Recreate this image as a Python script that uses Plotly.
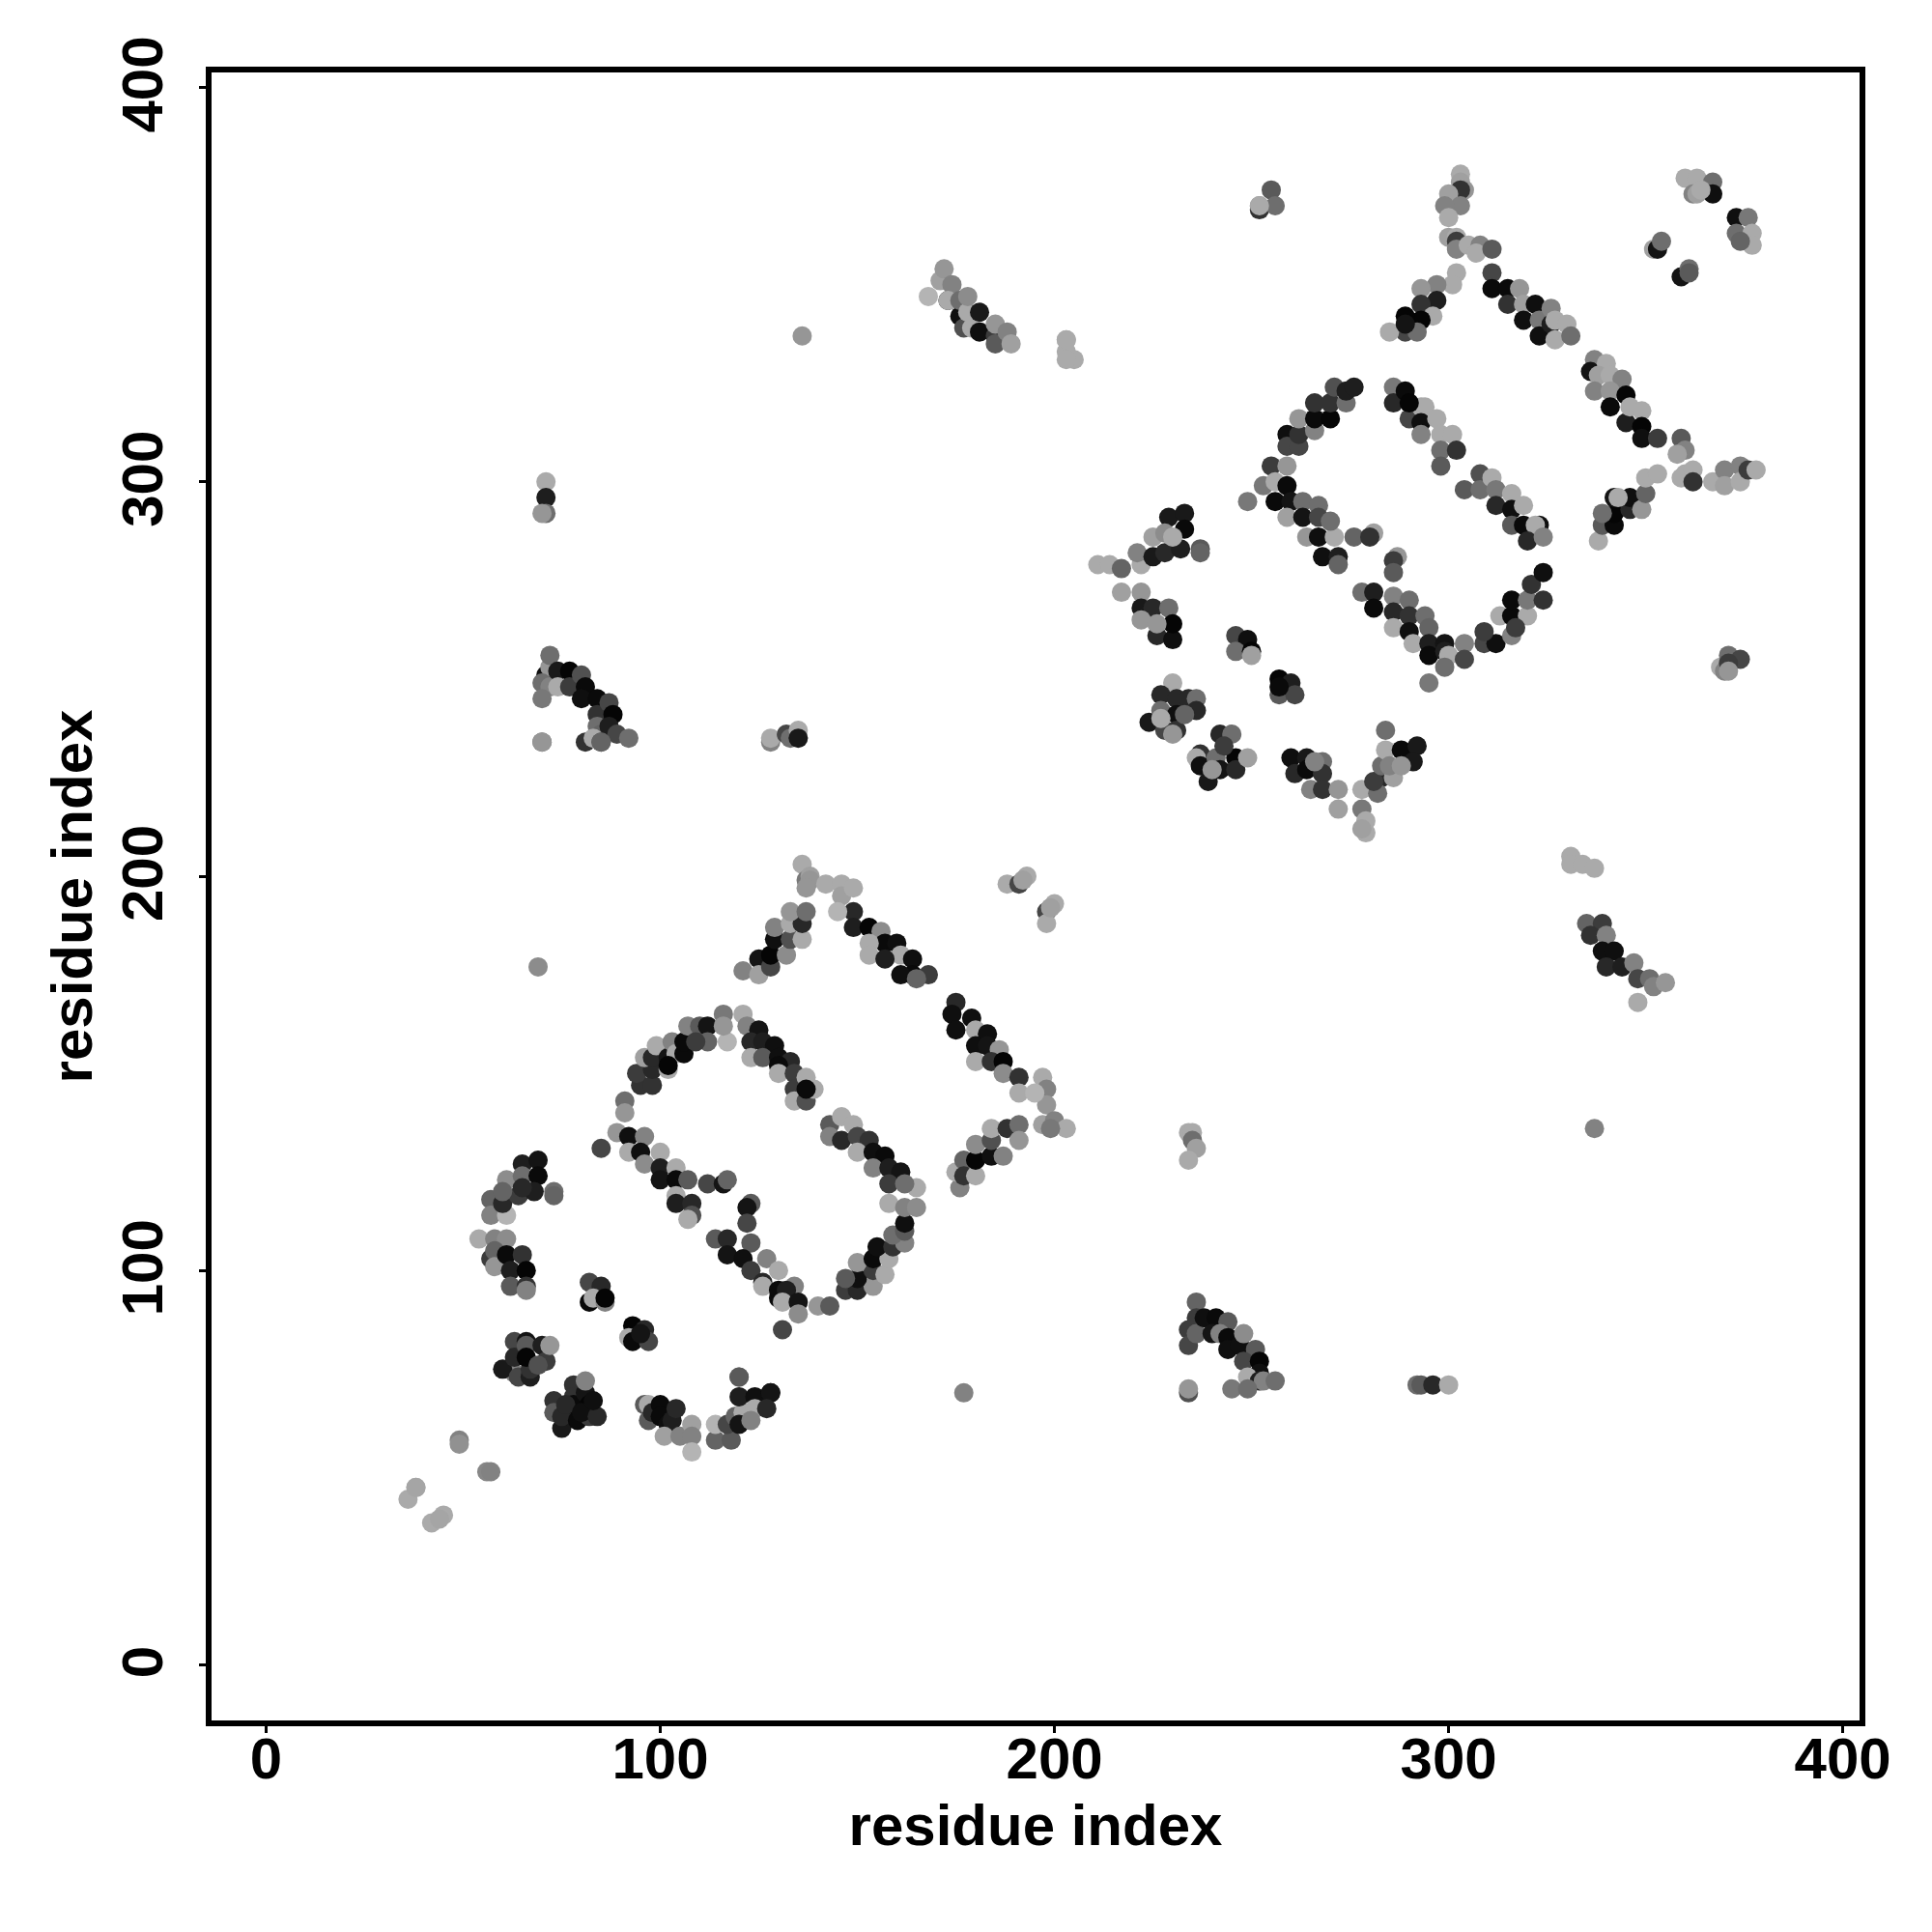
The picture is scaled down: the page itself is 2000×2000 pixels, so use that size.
import plotly.graph_objects as go

tail_x=[36,38,38,42,45,44,49,49,56,57]
tail_y=[42,45,45,36,38,37,57,56,49,49]
tail_g=[170,170,165,170,170,165,130,145,135,130]

a1_x=[75,73,73,75,78,78,78,79,81,82,82,81,76,80,84,83]
a1_y=[60,67,64,63,71,68,66,62,69,66,63,72,66,64,63,67]
a1_g=[25,50,90,40,50,50,10,10,20,5,60,130,40,15,40,15]

a2_x=[63,60,63,63,64,67,67,66,66,66,70,71,69,72]
a2_y=[74,75,82,78,73,73,75,82,81,78,81,77,76,81]
a2_g=[130,25,70,40,70,30,50,20,90,5,30,60,80,150]

a3_x=[82,85,82,83,86,86,93,92,93,96,97,95]
a3_y=[97,96,92,93,92,93,86,83,82,85,82,84]
a3_g=[70,40,10,170,130,5,5,170,10,40,70,20]

a4_x=[96,97,97,98,100,100,102,103,104,101,105,108,108,108]
a4_y=[66,66,62,64,66,63,61,62,65,58,58,61,58,54]
a4_g=[90,170,90,40,10,10,15,30,40,160,130,160,130,180]

a5_x=[120,120,114,118,114,117,119,121,120,120,124,124,128,128,127,123]
a5_y=[73,73,57,57,61,61,63,64,61,68,68,65,69,69,65,62]
a5_g=[110,90,100,90,180,70,100,170,20,30,15,170,15,20,40,130]

a6_x=[57,57,61,60,61,64,65,65,69,69,68,73,73,60,65]
a6_y=[118,114,114,117,123,119,127,124,128,124,120,120,119,120,121]
a6_g=[100,130,180,40,140,60,30,110,20,10,30,110,100,100,40]

a7_x=[54,58,61,57,58,58,61,65,62,66,62,66,66]
a7_y=[108,108,108,103,105,101,104,104,100,100,96,96,95]
a7_g=[170,130,140,60,100,150,10,50,30,5,90,50,130]

r1_x=[91,91,95,98,94,98,96,98,99,102,102,103,104,102,106,106,107,110,112,112,109,117,116,116,121]
r1_y=[143,140,147,147,150,151,154,154,157,151,154,158,155,152,155,158,162,162,162,158,158,158,165,162,165]
r1_g=[110,150,50,50,60,40,160,40,170,170,20,130,170,5,10,10,130,90,20,100,60,180,120,150,170]

r2_x=[122,125,123,123,126,129,126,130,133,130,130,134,134,134,137,137,139,137]
r2_y=[162,161,158,154,158,157,154,154,153,152,150,150,146,143,143,149,146,146]
r2_g=[130,20,40,170,30,15,90,15,40,10,170,60,60,170,80,170,170,10]

r3_x=[89,85,92,96,92,95,100,96,100,104,100,104,107,112,116,117,104,104,108,108,107,123,122,122]
r3_y=[135,131,134,134,130,130,130,127,126,126,123,123,123,122,122,123,119,117,117,114,113,117,116,112]
r3_g=[150,70,15,130,170,15,170,140,30,170,20,10,90,70,20,100,170,30,40,80,170,90,20,70]

r4_x=[114,117,117,123,121,127,123,126,130,126,130,130,134,132,131,135,135,131,140,143]
r4_y=[108,108,104,107,103,103,100,97,100,96,93,95,96,95,92,92,89,85,91,91]
r4_g=[90,40,20,90,15,130,60,40,170,170,10,10,130,30,170,20,140,70,150,90]

r5_x=[147,150,154,150,147,154,157,150,154,158,155,159,162,159,162,162,158,162,165,165]
r5_y=[95,95,96,98,98,100,99,102,103,103,106,106,107,109,110,112,117,116,116,121]
r5_g=[60,40,150,15,90,60,170,150,10,170,15,50,130,110,90,15,170,130,140,170]

r6_x=[143,146,149,143,146,150,153,150,154,157,154,158,161,158,162]
r6_y=[137,139,137,134,133,134,133,130,130,129,126,126,125,122,122]
r6_g=[90,170,170,130,40,70,50,170,15,10,130,30,20,60,110]

r7_x=[149,149,153,156,157,153,153,160,161,157,164,164,168,161,165]
r7_y=[191,187,187,186,183,183,180,183,180,179,179,175,175,175,174]
r7_g=[40,30,5,140,10,170,170,15,170,30,15,10,60,15,100]

r8_x=[121,125,125,128,128,132,129,133,136,129,133,136,133,137]
r8_y=[176,179,175,177,180,180,184,184,184,187,188,188,191,191]
r8_g=[130,20,160,70,5,140,15,80,170,130,170,40,150,110]

r9_x=[136,137,138,138,137,142,146,146,145,149]
r9_y=[203,199,200,199,197,198,198,195,191,197]
r9_g=[170,120,160,150,150,170,170,160,180,170]

s1_x=[188,191,193,192,198,200,198,199]
s1_y=[198,198,200,199,191,193,188,192]
s1_g=[170,70,170,160,70,170,170,160]

s2_x=[175,174,179,175,180,183,180,183,186,180,184,187,187,191,191,197,198,198,197,200,203,195,199]
s2_y=[168,165,164,161,161,160,157,157,156,153,153,153,150,149,145,149,146,142,137,138,136,145,136]
s2_g=[40,15,15,15,170,15,15,20,150,170,50,5,140,50,170,170,130,150,160,130,170,180,120]

s3_x=[176,175,177,177,180,180,180,184,184,187,184,188,191,191]
s3_y=[121,125,128,124,124,128,132,129,133,129,136,136,137,133]
s3_g=[130,170,100,50,170,5,140,15,80,130,170,50,110,150]

lone_x=[177,69,136,337,71,71,71,70]
lone_y=[69,177,337,136,300,296,292,292]
lone_g=[130,140,150,130,170,30,110,150]

b1_x=[203,203,205,203,255,252,252,256,252]
b1_y=[336,333,331,331,374,370,369,370,370]
b1_g=[170,170,170,170,90,130,50,110,170]

b2_x=[303,303,304,303,300,303,299,300,300,302,302,302,305,308,307,311]
b2_y=[378,376,374,374,373,370,370,367,362,362,361,359,360,360,358,359]
b2_g=[170,160,150,50,160,130,130,170,160,170,60,130,170,130,170,90]

b3_x=[302,301,297,293,297,293,296,293,289,289,292,285,289]
b3_y=[353,350,350,349,346,345,342,341,342,338,338,338,340]
b3_g=[170,170,130,150,30,50,170,5,5,70,110,170,20]

b4_x=[311,311,315,315,318,319,322,319,323,326,323,326,327,330,327,331]
b4_y=[353,349,349,345,349,345,345,341,341,344,337,340,341,340,336,337]
b4_g=[70,10,10,50,150,160,15,15,120,130,15,30,170,170,170,110]

b5_x=[337,336,340,338,341,337,344,341,345,341,345,346,349,349,349,353]
b5_y=[331,328,330,327,327,323,326,323,322,319,315,319,318,314,311,311]
b5_g=[130,20,170,160,170,130,130,150,5,10,30,170,170,5,15,60]

b6_x=[338,339,342,342,339,342,346,346,349,343,350,350,353]
b6_y=[285,289,289,292,292,296,293,296,293,296,297,301,302]
b6_g=[170,90,10,5,110,20,40,15,150,170,100,170,170]

b7_x=[359,360,358,360,359,362,362,367,370,370,374,374,376,378]
b7_y=[311,308,307,302,301,303,300,300,303,299,304,300,303,303]
b7_g=[90,130,160,170,170,170,50,170,130,160,130,170,60,170]

b8_x=[360,363,362,363,367,367,364,373,376,373,377,377,374]
b8_y=[377,377,373,373,376,373,374,367,367,363,363,360,361]
b8_g=[170,170,130,160,110,15,170,15,120,110,170,170,100]

b9_x=[352,353,354,359,361,361,369,371,374,370,371,371]
b9_y=[359,359,361,352,354,353,253,256,255,252,254,252]
b9_g=[160,20,110,20,110,90,170,110,70,130,60,150]

c1_x=[259,259,262,262,262,266,266,266,270,266,270,274,271,274,276]
c1_y=[312,309,309,312,316,316,313,316,316,320,320,320,324,323,324]
c1_g=[15,70,70,50,150,170,130,10,5,50,50,110,80,30,30]

c2_x=[286,286,289,290,293,294,290,293,297,293,298,301,298,302,298]
c2_y=[324,320,323,316,319,319,320,315,316,312,312,312,308,308,304]
c2_g=[120,40,10,70,170,170,5,15,170,130,170,170,110,50,90]

c3_x=[304,308,308,311,312,312,316,316,319,316,319,323,322,320,324]
c3_y=[298,302,298,301,298,294,297,293,294,289,289,289,289,285,286]
c3_g=[90,80,110,170,120,40,170,15,170,90,10,15,170,40,130]

c4_x=[255,259,253,256,259,256,260,249,259,263,267,263,264,267,267,271,270,276,281,280,268,272,272]
c4_y=[304,304,299,300,299,295,295,295,291,295,294,291,286,291,286,286,290,286,287,286,281,281,279]
c4_g=[60,150,120,170,10,10,20,120,160,110,110,20,150,70,15,170,110,100,160,50,15,30,100]

c5_x=[287,286,286,278,281,281,286,290,286,290,286,290,294,291,295,295,295,299,299,300,299,304,304,295]
c5_y=[281,280,277,272,272,268,271,270,267,266,263,262,266,259,263,259,256,259,257,256,253,259,255,249]
c5_g=[150,60,90,110,30,10,130,110,40,50,170,15,110,170,100,30,10,20,30,170,110,130,70,120]

c6_x=[309,312,309,313,316,316,320,316,320,324,321,324,317]
c6_y=[259,259,262,266,261,266,266,270,270,270,274,277,263]
c6_g=[70,15,60,170,130,10,170,10,120,50,50,15,60]

d1_x=[211,214,217,222,221,217,222,225,225,228,229,233,228,233,232,237,237,230]
d1_y=[279,279,278,279,282,272,272,281,286,282,291,292,287,288,283,283,282,286]
d1_g=[170,170,100,170,130,160,150,25,160,40,25,25,140,10,30,90,100,170]

d2_x=[222,225,229,222,226,230,230,226,246,249,246,250,250,257,260,257,261,257]
d2_y=[268,268,268,265,261,260,264,264,261,260,257,257,256,250,249,246,246,248]
d2_g=[25,40,110,150,40,15,5,150,70,15,110,5,160,5,30,90,70,10]

d3_x=[230,227,231,234,236,236,224,227,231,228,231,230,227,233]
d3_y=[249,246,245,245,245,242,239,242,241,237,237,236,240,241]
d3_g=[170,40,40,40,110,40,25,110,15,70,50,150,170,100]

d4_x=[242,245,237,236,237,241,242,246,246,249,239,240,243]
d4_y=[236,236,231,230,228,230,227,230,227,230,224,227,233]
d4_g=[40,110,50,170,15,110,20,5,40,160,25,150,60]

d5_x=[260,261,264,268,264,268,265,268,272,272,266]
d5_y=[230,226,230,229,227,226,222,222,222,217,229]
d5_g=[15,40,25,110,10,50,130,50,150,160,130]

d6_x=[284,278,278,279,279,278,283,282,281,283,286,284,285,288,292,291,288]
d6_y=[237,222,217,214,211,212,225,221,224,228,225,232,228,232,233,229,228]
d6_g=[110,170,120,170,170,160,40,110,60,110,160,170,130,10,25,25,150]

e1_x=[168,171,173,172,174,173,176,176,177,179,178,178,181,181,185,185,185,188,189,203]
e1_y=[347,351,346,354,350,346,342,346,339,339,343,347,343,338,337,335,340,338,335,336]
e1_g=[180,160,25,150,130,170,15,110,80,170,170,140,25,15,60,90,150,130,160,170]

e2_x=[71,72,72,70,72,70,74,74,77,77,80,81,80,84,84,87,84,88,85,87,89,92,81,83,85,85,70,70]
e2_y=[251,253,256,249,248,245,252,248,252,248,251,248,245,245,241,244,238,241,236,238,236,235,234,235,234,234,234,234]
e2_g=[15,150,110,110,130,120,25,170,5,60,80,10,15,10,50,70,110,5,100,30,70,110,50,170,70,100,100,150]

e3_x=[128,128,132,133,135,135,331,331,334,337]
e3_y=[234,235,236,235,237,235,205,203,203,202]
e3_g=[130,170,70,110,170,25,170,170,170,170]

e4_x=[335,339,336,340,339,342,340,344,347,348,351,348,352,355]
e4_y=[188,188,185,185,181,181,177,177,178,174,174,168,172,173]
e4_g=[100,60,50,130,15,15,40,30,130,70,110,170,130,150]

e5_x=[234,235,235,236,234,236,236,234,234,236,238,241,240,244,242,244,244,247,251,248,252,252,249,252,253,256,245,249,234,234,248]
e5_y=[135,135,133,131,128,92,88,85,81,84,88,88,84,87,84,83,80,81,80,77,77,74,73,72,72,72,70,70,69,70,84]
e5_g=[170,170,110,160,170,100,60,60,70,100,15,10,20,90,130,10,15,15,90,70,5,15,170,30,130,110,120,110,80,150,140]

e6_x=[292,293,296,300]
e6_y=[71,71,71,71]
e6_g=[110,90,40,170]

tick_vals=[0,100,200,300,400]
tick_text=["0","100","200","300","400"]

ns=globals()
names=["tail","a1","a2","a3","a4","a5","a6","a7","r1","r2","r3","r4","r5","r6","r7","r8","r9",
       "s1","s2","s3","lone","b1","b2","b3","b4","b5","b6","b7","b8","b9","c1","c2","c3","c4","c5","c6",
       "d1","d2","d3","d4","d5","d6","e1","e2","e3","e4","e5","e6"]
xs,ys,cs=[],[],[]
for n in names:
    for a,b,g in zip(ns[n+"_x"],ns[n+"_y"],ns[n+"_g"]):
        xs.append(a);ys.append(b);cs.append(f"rgb({g},{g},{g})")

font=dict(family="Liberation Sans",size=60,color="black")
fig=go.Figure(go.Scatter(x=xs,y=ys,mode="markers",marker=dict(size=20,color=cs,line=dict(width=0)),showlegend=False))
ax=dict(showgrid=False,zeroline=False,showline=True,mirror=True,linecolor="black",linewidth=6,
        ticks="outside",ticklen=7,tickwidth=3,tickcolor="black",tickmode="array",tickvals=tick_vals,tickfont=font)
fig.update_xaxes(**ax,range=[-13.84,404.25],ticktext=[f"<b>{t}</b>" for t in tick_text],ticklabelstandoff=-25,
                 title=dict(text="<b>residue index</b>",font=font,standoff=17))
fig.update_yaxes(**ax,range=[-14.08,403.8],tickangle=-90,ticklabelstandoff=14,
                 ticktext=[f"<b>{t}\u2009</b>" for t in tick_text],
                 title=dict(text="<b>residue index</b>",font=font,standoff=1))
fig.update_layout(width=1984,height=1984,autosize=False,margin=dict(l=210.5,r=66.5,t=66.5,b=210.5),
                  plot_bgcolor="white",paper_bgcolor="white",font=font)
fig.write_html("out.html")
